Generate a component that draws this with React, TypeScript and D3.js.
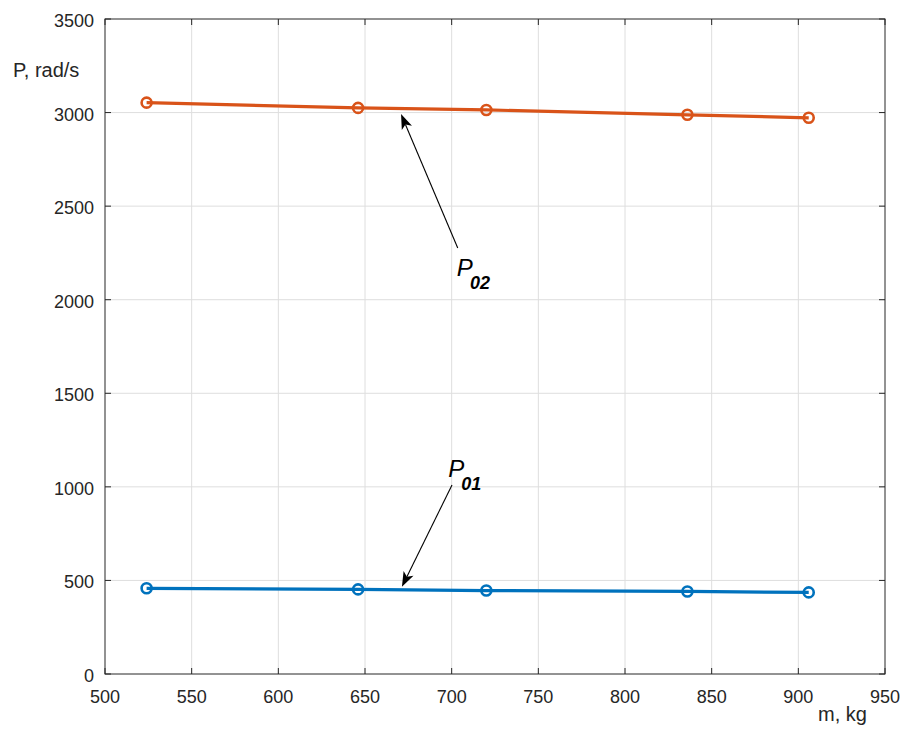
import * as d3 from 'd3'

// masses, kg
const masses = [524, 646, 720, 836, 906]
// natural frequencies, rad/s
const p01 = [458, 452, 446, 441, 436]
const p02 = [3053, 3025, 3014, 2988, 2972]

const xTicks = [500, 550, 600, 650, 700, 750, 800, 850, 900, 950]
const yTicks = [0, 500, 1000, 1500, 2000, 2500, 3000, 3500]

// annotation arrows, in data units: [tail m, tail P, head m, head P]
const arrows = [
  [703.5, 2276, 670.8, 2992],
  [700.2, 1010, 671.3, 466],
]
// labels: [m, P, subscript]
const labels: [number, number, string][] = [
  [703, 2127, '02'],
  [698, 1053, '01'],
]

const W = 905
const H = 729
const left = 105
const right = 885
const top = 19
const bottom = 674

const ink = '#262626'
const blue = '#0072BD'
const orange = '#D95319'

export default function App() {
  const x = d3.scaleLinear().domain([500, 950]).range([left, right])
  const y = d3.scaleLinear().domain([0, 3500]).range([bottom, top])

  const line = d3
    .line<number>()
    .x((_, i) => x(masses[i]))
    .y((d) => y(d))

  const series = [
    { values: p01, color: blue },
    { values: p02, color: orange },
  ]

  const headLen = 15
  const headW = 5.5

  return (
    <svg
      width={W}
      height={H}
      style={{ position: 'absolute', left: 0, top: 0, background: '#fff' }}
      fontFamily="'Liberation Sans', Arial, sans-serif"
    >
      <rect x={left} y={top} width={right - left} height={bottom - top} fill="#fff" />

      {/* grid */}
      {xTicks.slice(1, -1).map((t) => (
        <line key={'gx' + t} x1={x(t)} x2={x(t)} y1={top} y2={bottom} stroke="#dedede" strokeWidth={1} />
      ))}
      {yTicks.slice(1, -1).map((t) => (
        <line key={'gy' + t} x1={left} x2={right} y1={y(t)} y2={y(t)} stroke="#dedede" strokeWidth={1} />
      ))}

      {/* ticks */}
      {xTicks.map((t) => (
        <g key={'tx' + t}>
          <line x1={x(t)} x2={x(t)} y1={bottom} y2={bottom - 6} stroke={ink} />
          <line x1={x(t)} x2={x(t)} y1={top} y2={top + 6} stroke={ink} />
          <text x={x(t)} y={bottom + 29} textAnchor="middle" fontSize={18} fill={ink}>
            {t}
          </text>
        </g>
      ))}
      {yTicks.map((t) => (
        <g key={'ty' + t}>
          <line x1={left} x2={left + 6} y1={y(t)} y2={y(t)} stroke={ink} />
          <line x1={right} x2={right - 6} y1={y(t)} y2={y(t)} stroke={ink} />
          <text x={left - 11} y={y(t) + 8} textAnchor="end" fontSize={18} fill={ink}>
            {t}
          </text>
        </g>
      ))}

      <rect x={left} y={top} width={right - left} height={bottom - top} fill="none" stroke={ink} strokeWidth={1} />

      {/* series */}
      {series.map((s, k) => (
        <g key={k}>
          <path d={line(s.values) || ''} fill="none" stroke={s.color} strokeWidth={3.2} />
          {s.values.map((v, i) => (
            <circle key={i} cx={x(masses[i])} cy={y(v)} r={5} fill="none" stroke={s.color} strokeWidth={2.6} />
          ))}
        </g>
      ))}

      {/* annotations */}
      {arrows.map(([m0, v0, m1, v1], i) => {
        const x0 = x(m0)
        const y0 = y(v0)
        const x1 = x(m1)
        const y1 = y(v1)
        const a = Math.atan2(y1 - y0, x1 - x0)
        const bx = x1 - headLen * Math.cos(a)
        const by = y1 - headLen * Math.sin(a)
        const nx = -Math.sin(a) * headW
        const ny = Math.cos(a) * headW
        const ix = x1 - headLen * 0.75 * Math.cos(a)
        const iy = y1 - headLen * 0.75 * Math.sin(a)
        return (
          <g key={'a' + i}>
            <line x1={x0} y1={y0} x2={ix} y2={iy} stroke="#000" strokeWidth={1.1} />
            <path
              d={`M${x1},${y1}L${bx + nx},${by + ny}L${ix},${iy}L${bx - nx},${by - ny}Z`}
              fill="#000"
            />
          </g>
        )
      })}
      {labels.map(([m, v, sub]) => (
        <text key={sub} x={x(m)} y={y(v)} fontSize={24} fontStyle="italic" fill="#000">
          P
          <tspan dx={-3} dy={13} fontSize={18} fontWeight="bold">
            {sub}
          </tspan>
        </text>
      ))}

      {/* axis labels */}
      <text x={13} y={77} fontSize={20} fill={ink}>
        P, rad/s
      </text>
      <text x={818} y={721} fontSize={20} fill={ink}>
        m, kg
      </text>
    </svg>
  )
}
